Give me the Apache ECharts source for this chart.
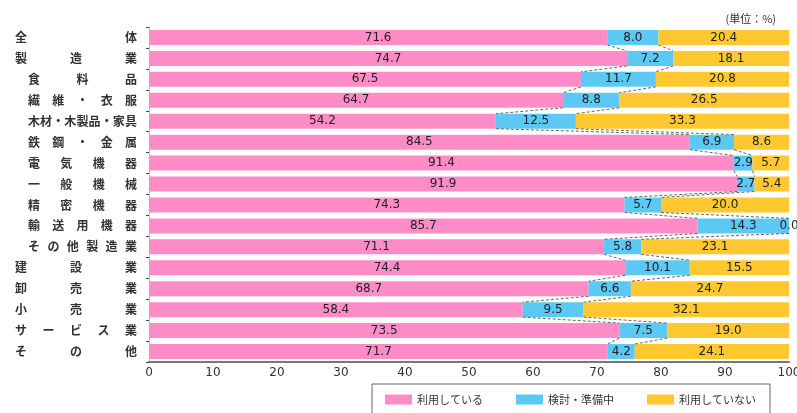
<!DOCTYPE html>
<html>
<head>
<meta charset="utf-8">
<script src="https://cdn.jsdelivr.net/npm/echarts@6/dist/echarts.min.js"></script>
<style>
  html, body { margin: 0; padding: 0; background: #fff; }
  #chart { width: 797px; height: 413px; }
</style>
</head>
<body>
<div id="chart"></div>
<script>
// Industries, top to bottom
const categories = [
  '全体', '製造業', '食料品', '繊維・衣服', '木材・木製品・家具', '鉄鋼・金属',
  '電気機器', '一般機械', '精密機器', '輸送用機器', 'その他製造業',
  '建設業', '卸売業', '小売業', 'サービス業', 'その他'
];
// Manufacturing sub-industries (drawn indented)
const subIndustries = [
  '食料品', '繊維・衣服', '木材・木製品・家具', '鉄鋼・金属', '電気機器',
  '一般機械', '精密機器', '輸送用機器', 'その他製造業'
];
const seriesNames = ['利用している', '検討・準備中', '利用していない'];
const usingValues     = [71.6, 74.7, 67.5, 64.7, 54.2, 84.5, 91.4, 91.9, 74.3, 85.7, 71.1, 74.4, 68.7, 58.4, 73.5, 71.7];
const preparingValues = [ 8.0,  7.2, 11.7,  8.8, 12.5,  6.9,  2.9,  2.7,  5.7, 14.3,  5.8, 10.1,  6.6,  9.5,  7.5,  4.2];
const notUsingValues  = [20.4, 18.1, 20.8, 26.5, 33.3,  8.6,  5.7,  5.4, 20.0,  0.0, 23.1, 15.5, 24.7, 32.1, 19.0, 24.1];
const xTickValues = [0, 10, 20, 30, 40, 50, 60, 70, 80, 90, 100];
const unitText = '(単位：%)';

const colors = ['#ff8cc6', '#5cc8f4', '#ffc830'];
const labelFont = 'Noto Sans CJK JP';
const numFont = 'DejaVu Sans';

// Justified category labels: each character gets a fixed-width box so the
// text spreads across the label column
const CHAR_W = 12;
const MAIN_W = 122, SUB_W = 109;
const rich = { e: { fontSize: 12, fontFamily: labelFont, fontWeight: 'bold', color: '#333' } };
categories.forEach((name, i) => {
  const chars = Array.from(name);
  const total = subIndustries.includes(name) ? SUB_W : MAIN_W;
  const step = chars.length > 1 ? (total - CHAR_W) / (chars.length - 1) : total;
  rich['j' + i] = { width: step, align: 'left', fontSize: 12, fontFamily: labelFont, fontWeight: 'bold', color: '#333' };
});
function justify(value, index) {
  const chars = Array.from(value);
  return chars.map((c, k) => (k < chars.length - 1 ? '{j' + index + '|' + c + '}' : '{e|' + c + '}')).join('');
}

// Series lines between adjacent bars at the segment boundaries
const BAR_W = 15;
const connectorData = [];
for (let i = 0; i < categories.length - 1; i++) {
  connectorData.push([
    i,
    usingValues[i], usingValues[i + 1],
    usingValues[i] + preparingValues[i], usingValues[i + 1] + preparingValues[i + 1]
  ]);
}

function segLabel() {
  return {
    show: true,
    position: 'inside',
    color: '#222',
    fontSize: 12,
    fontFamily: numFont,
    formatter: p => Number(p.value).toFixed(1)
  };
}

const chart = echarts.init(document.getElementById('chart'), null, { renderer: 'canvas' });
chart.setOption({
  animation: false,
  backgroundColor: '#fff',
  title: {
    text: unitText,
    right: 16,
    top: 8,
    textStyle: { fontSize: 11, fontWeight: 'normal', color: '#333', fontFamily: labelFont }
  },
  legend: {
    data: seriesNames,
    left: 372,
    top: 384,
    icon: 'rect',
    itemWidth: 27,
    itemHeight: 10,
    itemGap: 33,
    borderColor: '#666',
    borderWidth: 1,
    padding: [10, 14, 12, 13],
    textStyle: { fontSize: 11, color: '#333', fontFamily: labelFont }
  },
  grid: { left: 149, right: 8, top: 27, bottom: 51, containLabel: false, outerBoundsMode: 'none' },
  xAxis: {
    type: 'value',
    min: xTickValues[0],
    max: xTickValues[xTickValues.length - 1],
    interval: xTickValues[1] - xTickValues[0],
    axisLine: { show: true, lineStyle: { color: '#777', width: 2 } },
    axisTick: { show: false },
    splitLine: { show: false },
    axisLabel: { margin: 5, fontSize: 12, color: '#333', fontFamily: numFont }
  },
  yAxis: {
    type: 'category',
    inverse: true,
    data: categories,
    axisLine: { show: true, lineStyle: { color: '#bbb', width: 1 } },
    axisTick: { show: true, length: 3, lineStyle: { color: '#444' } },
    axisLabel: { margin: 12, formatter: justify, rich: rich }
  },
  series: [
    {
      name: seriesNames[0], type: 'bar', stack: 'total', barWidth: BAR_W,
      itemStyle: { color: colors[0] }, label: segLabel(), data: usingValues
    },
    {
      name: seriesNames[1], type: 'bar', stack: 'total', barWidth: BAR_W,
      itemStyle: { color: colors[1] }, label: segLabel(), data: preparingValues
    },
    {
      name: seriesNames[2], type: 'bar', stack: 'total', barWidth: BAR_W,
      itemStyle: { color: colors[2] }, label: segLabel(), data: notUsingValues
    },
    {
      type: 'custom',
      z: 5,
      silent: true,
      encode: { x: [1, 2, 3, 4], y: 0 },
      data: connectorData,
      renderItem: function (params, api) {
        const i = api.value(0);
        const h = BAR_W / 2;
        const style = { stroke: '#666', lineWidth: 1, lineDash: [3, 2], fill: null };
        const a1 = api.coord([api.value(1), i]);
        const a2 = api.coord([api.value(2), i + 1]);
        const b1 = api.coord([api.value(3), i]);
        const b2 = api.coord([api.value(4), i + 1]);
        return {
          type: 'group',
          children: [
            { type: 'line', shape: { x1: a1[0], y1: a1[1] + h, x2: a2[0], y2: a2[1] - h }, style: style },
            { type: 'line', shape: { x1: b1[0], y1: b1[1] + h, x2: b2[0], y2: b2[1] - h }, style: style }
          ]
        };
      }
    }
  ]
});
</script>
</body>
</html>
